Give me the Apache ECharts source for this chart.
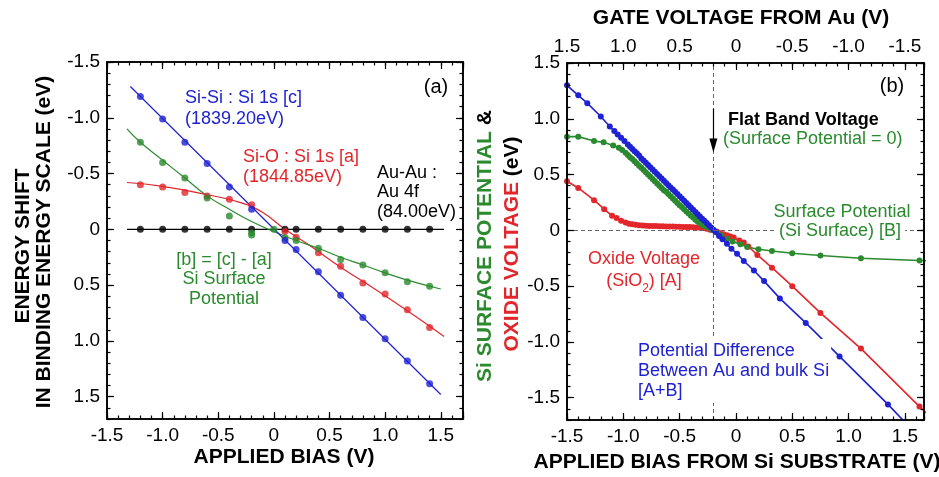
<!DOCTYPE html>
<html><head><meta charset="utf-8">
<script src="https://cdn.jsdelivr.net/npm/echarts@6/dist/echarts.min.js"></script>
<style>html,body{margin:0;padding:0;background:#fff}
#wrap{position:relative;width:939px;height:477px}
#wrap>div{position:absolute;left:0;top:0;width:939px;height:477px}</style>
</head><body><div id="wrap"></div>
<script>
// ---------- panel (a) data : [applied bias, energy shift] ----------
const siSiPts = [[-1.2,-1.19],[-1.0,-0.99],[-0.8,-0.78],[-0.6,-0.59],[-0.4,-0.38],[-0.2,-0.18],[0.1,0.10],[0.2,0.18],[0.4,0.38],[0.6,0.59],[0.8,0.79],[1.0,0.98],[1.2,1.18],[1.4,1.385]];
const siOPts = [[-1.2,-0.40],[-1.0,-0.38],[-0.8,-0.33],[-0.6,-0.30],[-0.4,-0.27],[-0.2,-0.22],[0.1,0.02],[0.2,0.07],[0.4,0.21],[0.6,0.33],[0.8,0.48],[1.0,0.58],[1.2,0.72],[1.4,0.88]];
const surfPts = [[-1.2,-0.78],[-1.0,-0.60],[-0.8,-0.46],[-0.6,-0.28],[-0.4,-0.12],[-0.2,0.03],[-0.2,0.05],[0.0,0.0],[0.1,0.075],[0.2,0.10],[0.4,0.17],[0.6,0.27],[0.8,0.32],[1.0,0.39],[1.2,0.47],[1.4,0.51]];
const auPts = [[-1.2,0],[-1.0,0],[-0.8,0],[-0.6,0],[-0.4,0],[-0.2,0],[0.1,0],[0.2,0],[0.4,0],[0.6,0],[0.8,0],[1.0,0],[1.2,0],[1.4,0]];
const siSiFit = [[-1.29,-1.28],[1.5,1.48]];
const siOFit = [[-1.32,-0.42],[-1.0,-0.385],[-0.6,-0.31],[-0.3,-0.24],[-0.1,-0.15],[0.1,0.0],[0.3,0.13],[0.6,0.34],[0.9,0.53],[1.2,0.73],[1.53,0.96]];
const surfFit = [[-1.32,-0.90],[-1.2,-0.78],[-1.0,-0.62],[-0.8,-0.46],[-0.6,-0.30],[-0.4,-0.18],[-0.2,-0.07],[0.0,0.02],[0.2,0.10],[0.4,0.17],[0.6,0.25],[0.8,0.32],[1.0,0.39],[1.2,0.455],[1.5,0.535]];
const auFit = [[-1.32,0],[1.53,0]];

// ---------- panel (b) data : [bias from Si substrate, potential] ----------
const diffB = [[-1.50,1.30],[-1.40,1.21],[-1.32,1.14],[-1.20,1.02],[-1.12,0.93],[-1.08,0.89],[-1.05,0.86],[-1.02,0.83],[-0.99,0.80],[-0.96,0.77],[-0.94,0.75],[-0.92,0.73],[-0.90,0.71],[-0.88,0.69],[-0.86,0.67],[-0.84,0.645],[-0.82,0.625],[-0.80,0.605],[-0.78,0.585],[-0.76,0.565],[-0.74,0.545],[-0.72,0.525],[-0.70,0.505],[-0.68,0.485],[-0.66,0.465],[-0.64,0.445],[-0.62,0.425],[-0.60,0.405],[-0.58,0.385],[-0.56,0.365],[-0.54,0.345],[-0.52,0.325],[-0.50,0.305],[-0.48,0.285],[-0.46,0.265],[-0.44,0.245],[-0.42,0.225],[-0.40,0.205],[-0.38,0.185],[-0.36,0.165],[-0.34,0.145],[-0.32,0.125],[-0.30,0.105],[-0.28,0.085],[-0.26,0.065],[-0.24,0.045],[-0.22,0.025],[-0.20,0.005],[-0.18,-0.015],[-0.15,-0.05],[-0.12,-0.08],[-0.08,-0.12],[-0.04,-0.165],[0.01,-0.21],[0.07,-0.275],[0.16,-0.36],[0.25,-0.455],[0.39,-0.61],[0.62,-0.83],[0.92,-1.13],[1.35,-1.56],[1.52,-1.74]];
const surfB = [[-1.50,0.84],[-1.40,0.84],[-1.26,0.80],[-1.175,0.79],[-1.09,0.76],[-1.04,0.74],[-1.01,0.72],[-0.98,0.695],[-0.96,0.675],[-0.94,0.655],[-0.92,0.64],[-0.90,0.62],[-0.88,0.60],[-0.86,0.58],[-0.84,0.56],[-0.82,0.54],[-0.80,0.52],[-0.78,0.50],[-0.76,0.48],[-0.74,0.46],[-0.72,0.44],[-0.70,0.42],[-0.68,0.40],[-0.66,0.38],[-0.64,0.36],[-0.62,0.345],[-0.60,0.325],[-0.58,0.305],[-0.56,0.285],[-0.54,0.265],[-0.52,0.245],[-0.50,0.225],[-0.48,0.21],[-0.46,0.19],[-0.44,0.17],[-0.42,0.15],[-0.40,0.13],[-0.38,0.115],[-0.36,0.095],[-0.34,0.08],[-0.32,0.065],[-0.30,0.05],[-0.28,0.04],[-0.26,0.03],[-0.24,0.02],[-0.22,0.01],[-0.20,0.0],[-0.17,-0.02],[-0.13,-0.045],[-0.08,-0.075],[-0.03,-0.10],[0.04,-0.125],[0.10,-0.15],[0.20,-0.17],[0.32,-0.185],[0.50,-0.205],[0.75,-0.225],[1.11,-0.25],[1.63,-0.27],[1.75,-0.275]];
const oxideB = [[-1.50,0.44],[-1.40,0.38],[-1.26,0.27],[-1.17,0.19],[-1.10,0.13],[-1.06,0.11],[-1.02,0.085],[-0.98,0.07],[-0.95,0.06],[-0.92,0.055],[-0.89,0.05],[-0.86,0.046],[-0.83,0.043],[-0.80,0.041],[-0.77,0.04],[-0.74,0.039],[-0.71,0.038],[-0.68,0.037],[-0.65,0.036],[-0.62,0.035],[-0.59,0.034],[-0.56,0.034],[-0.53,0.033],[-0.50,0.032],[-0.47,0.031],[-0.44,0.03],[-0.41,0.029],[-0.38,0.028],[-0.35,0.026],[-0.32,0.024],[-0.29,0.02],[-0.26,0.014],[-0.23,0.006],[-0.20,0.0],[-0.17,-0.01],[-0.14,-0.025],[-0.11,-0.035],[-0.08,-0.045],[-0.05,-0.055],[-0.02,-0.065],[0.03,-0.09],[0.07,-0.11],[0.11,-0.145],[0.19,-0.22],[0.32,-0.335],[0.50,-0.50],[0.75,-0.74],[1.11,-1.06],[1.63,-1.58],[1.75,-1.69]];
const flatBandBias = -0.2;
const arrowFrom = [-0.2, 1.09], arrowTo = [-0.2, 0.76];

// ---------- axis ranges / ticks ----------
const rangeA = [-1.5, 1.7];                       // panel (a), both axes (y drawn downward)
const rangeAyMirror = [-rangeA[1], -rangeA[0]];   // upward-running copy of (a)'s y scale, for ticks/labels
const rangeBx = [-1.5, 1.67];
const rangeBy = [-1.7, 1.5];
const majorTicks = [-1.5,-1.0,-0.5,0,0.5,1.0,1.5];
const majorStep = 0.5, minorStep = 0.1;

const GA = {left:107, top:62, width:356, height:357};
const GB = {left:567, top:63, width:357, height:357};

const BLUE='#1f22d2', RED='#e2262b', GREEN='#2b8a2e', BLACK='#000';
const FONT='"Liberation Sans", Arial, Helvetica, sans-serif';
const fmt = v => { v = Number(v); return Math.abs(v) < 1e-9 ? '0' : v.toFixed(1); };
const lab = v => (Math.abs(Number(v)) > 1.55 ? '' : fmt(v));
const labNeg = v => (Math.abs(Number(v)) > 1.55 ? '' : fmt(-Number(v)));

const wrap = document.getElementById('wrap');
function inst(option){
  const d = document.createElement('div'); wrap.appendChild(d);
  const c = echarts.init(d); c.setOption(Object.assign({animation:false}, option)); return c;
}

function ax(pos, range, o){
  o = o || {};
  const a = {
    type:'value', position:pos, min:range[0], max:range[1],
    splitLine:{show:false},
    axisLine:{show:!!o.major, onZero:false, lineStyle:{color:'#000', width:1.6}},
    axisTick:{show:true, inside:true, length:o.major?7:3.5, lineStyle:{color:'#000', width:1.2}},
    axisLabel:{show:!!o.labels, color:'#000', fontSize:19, fontFamily:FONT, margin:7, formatter:o.fmt||lab}
  };
  if (o.major && o.custom) { a.axisTick.customValues = majorTicks; a.axisLabel.customValues = majorTicks; }
  else a.interval = o.major ? majorStep : minorStep;
  return a;
}

function fit(data,color){return {type:'line',data:data,smooth:true,showSymbol:false,lineStyle:{color:color,width:1.2},silent:true,z:2};}
function pts(data,color){return {type:'scatter',data:data,symbolSize:7,itemStyle:{color:color},z:3};}
function lineB(data,color){return {type:'line',data:data,symbol:'circle',symbolSize:6,showSymbol:true,showAllSymbol:true,lineStyle:{color:color,width:1.6},itemStyle:{color:color},z:3};}
const frame = g => Object.assign({show:true, borderColor:'#000', borderWidth:1.6, backgroundColor:'transparent'}, g);

// ---- data layer (a)
inst({
  grid:frame(GA),
  xAxis:{type:'value', min:rangeA[0], max:rangeA[1], show:false},
  yAxis:{type:'value', min:rangeA[0], max:rangeA[1], inverse:true, show:false},
  series:[fit(auFit,BLACK), fit(siOFit,RED), fit(surfFit,GREEN), fit(siSiFit,BLUE),
          pts(auPts,BLACK), pts(siOPts,RED), pts(surfPts,GREEN), pts(siSiPts,BLUE)]
});

// ---- data layer (b)
inst({
  grid:frame(GB),
  xAxis:{type:'value', min:rangeBx[0], max:rangeBx[1], show:false},
  yAxis:{type:'value', min:rangeBy[0], max:rangeBy[1], show:false},
  series:[
    {type:'line',data:[],z:1,
     markLine:{silent:true,symbol:'none',animation:false,label:{show:false},
       lineStyle:{type:[4,3],color:'#666',width:1},
       data:[{xAxis:flatBandBias},{yAxis:0}]}},
    lineB(oxideB,RED), lineB(surfB,GREEN), lineB(diffB,BLUE),
    {type:'line',data:[],z:4,
     markLine:{silent:true,animation:false,symbol:['none','triangle'],symbolSize:[8,14],label:{show:false},
       lineStyle:{type:'solid',color:'#000',width:1.2},itemStyle:{color:'#000'},
       data:[[{coord:arrowFrom},{coord:arrowTo}]]}}
  ]
});

// ---- axis layers (one x + one y axis per instance)
[
  [GA, ax('bottom',rangeA,{major:true,labels:true}), ax('left',rangeAyMirror,{major:true,labels:true,custom:true,fmt:labNeg})],
  [GA, ax('bottom',rangeA), ax('left',rangeAyMirror)],
  [GA, ax('top',rangeA,{major:true}), ax('right',rangeAyMirror,{major:true,custom:true})],
  [GA, ax('top',rangeA), ax('right',rangeAyMirror)],
  [GB, ax('bottom',rangeBx,{major:true,labels:true}), ax('left',rangeBy,{major:true,labels:true,custom:true})],
  [GB, ax('bottom',rangeBx), ax('left',rangeBy)],
  [GB, ax('top',rangeBx,{major:true,labels:true,fmt:labNeg}), ax('right',rangeBy,{major:true,custom:true})],
  [GB, ax('top',rangeBx), ax('right',rangeBy)]
].forEach(d => inst({grid:Object.assign({}, d[0]), xAxis:d[1], yAxis:d[2], series:[]}));

// ---- text layer
function txt(x,y,s,o){
  o=o||{};
  return {type:'text',x:x,y:y,z:100,rotation:o.rot||0,
    style:Object.assign({text:s,fill:o.color||'#000',font:(o.bold?'bold ':'')+(o.size||18)+'px '+FONT,
      align:o.align||'left',verticalAlign:'middle',lineHeight:o.lh||20},o.style||{})};
}
const R=Math.PI/2;
inst({graphic:[
  txt(23,246,'ENERGY SHIFT',{bold:true,size:21,rot:R,align:'center'}),
  txt(44,242,'IN BINDING ENERGY SCALE (eV)',{bold:true,size:21,rot:R,align:'center'}),
  txt(284,457,'APPLIED BIAS (V)',{bold:true,size:21,align:'center'}),
  txt(737,462,'APPLIED BIAS FROM Si SUBSTRATE (V)',{bold:true,size:21,align:'center'}),
  txt(741,18,'GATE VOLTAGE FROM Au (V)',{bold:true,size:21,align:'center'}),
  {type:'text',x:485,y:246,z:100,rotation:R,style:{text:'{g|Si SURFACE POTENTIAL }{k|&}',align:'center',verticalAlign:'middle',
    rich:{g:{fill:GREEN,font:'bold 21px '+FONT},k:{fill:'#000',font:'bold 21px '+FONT}}}},
  {type:'text',x:512,y:244,z:100,rotation:R,style:{text:'{r|OXIDE VOLTAGE }{k|(eV)}',align:'center',verticalAlign:'middle',
    rich:{r:{fill:RED,font:'bold 21px '+FONT},k:{fill:'#000',font:'bold 21px '+FONT}}}},
  txt(436,87,'(a)',{size:20,align:'center'}),
  txt(185,98,'Si-Si : Si 1s [c]',{color:BLUE}),
  txt(185,119,'(1839.20eV)',{color:BLUE}),
  txt(243,157,'Si-O : Si 1s [a]',{color:RED}),
  txt(243,177,'(1844.85eV)',{color:RED}),
  txt(377,173,'Au-Au :',{}),
  txt(377,192,'Au 4f',{}),
  txt(377,212,'(84.00eV)',{}),
  txt(224,260,'[b] = [c] - [a]',{color:GREEN,align:'center'}),
  txt(224,279,'Si Surface',{color:GREEN,align:'center'}),
  txt(224,299,'Potential',{color:GREEN,align:'center'}),
  txt(892,86,'(b)',{size:20,align:'center'}),
  txt(728,120,'Flat Band Voltage',{bold:true}),
  txt(723,139,'(Surface Potential = 0)',{color:GREEN}),
  txt(842,212,'Surface Potential',{color:GREEN,align:'center'}),
  txt(840,231,'(Si Surface) [B]',{color:GREEN,align:'center',style:{backgroundColor:'#fff',padding:[0,4]}}),
  txt(644,259,'Oxide Voltage',{color:RED,align:'center'}),
  {type:'text',x:644,y:281,z:100,style:{text:'{a|(SiO}{s|2}{a|) [A]}',align:'center',verticalAlign:'middle',
    rich:{a:{fill:RED,font:'18px '+FONT},s:{fill:RED,font:'12px '+FONT,padding:[16,0,0,0]}}}},
  txt(638,371,'Potential Difference\nBetween Au and bulk Si\n[A+B]',{color:BLUE,style:{backgroundColor:'#fff',padding:[2,2,2,0]}})
]});
</script></body></html>
